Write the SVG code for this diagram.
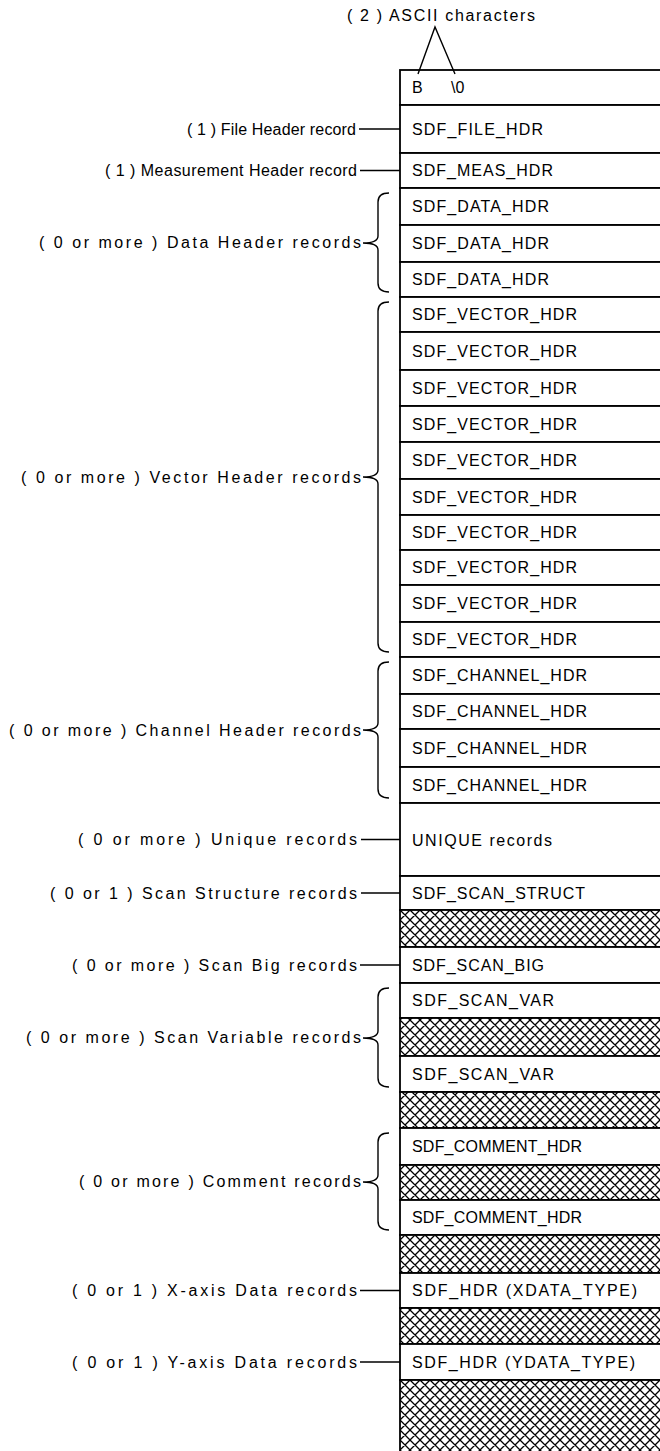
<svg xmlns="http://www.w3.org/2000/svg" width="660" height="1451" viewBox="0 0 660 1451">
<style>
  text { font-family: "Liberation Sans", Arial, sans-serif; font-size: 16px; fill: #000; }
  .lbl { text-anchor: end; }
  .row { fill: #fff; stroke: #000; stroke-width: 1.8; }
  .hatch { fill: url(#hatch); stroke: #000; stroke-width: 1.8; }
  .ln { fill: none; stroke: #000; stroke-width: 1.4; }
</style>
<defs>
  <pattern id="hatch" patternUnits="userSpaceOnUse" width="10" height="10">
    <rect width="10" height="10" fill="#fff"/>
    <path d="M0,0L10,10M-1,9L1,11M9,-1L11,1M10,0L0,10M-1,1L1,-1M9,11L11,9" stroke="#000" stroke-width="1.3"/>
  </pattern>
</defs>
<rect width="660" height="1451" fill="#fff"/>

<g id="header-label">
  <text x="441" y="21" text-anchor="middle" textLength="188" lengthAdjust="spacing">( 2 ) ASCII characters</text>
</g>

<g id="rows">
  <g id="row-magic"><rect class="row" x="400" y="70" width="270" height="35"/><text x="412" y="93">B</text><text x="451" y="93">\0</text></g>
  <g id="row-file-hdr"><rect class="row" x="400" y="105" width="270" height="48"/><text x="412" y="135" textLength="131" lengthAdjust="spacing">SDF_FILE_HDR</text></g>
  <g id="row-meas-hdr"><rect class="row" x="400" y="153" width="270" height="35"/><text x="412" y="176" textLength="141" lengthAdjust="spacing">SDF_MEAS_HDR</text></g>
  <g id="row-data-1"><rect class="row" x="400" y="188" width="270" height="37"/><text x="412" y="212" textLength="137" lengthAdjust="spacing">SDF_DATA_HDR</text></g>
  <g id="row-data-2"><rect class="row" x="400" y="225" width="270" height="37"/><text x="412" y="249" textLength="137" lengthAdjust="spacing">SDF_DATA_HDR</text></g>
  <g id="row-data-3"><rect class="row" x="400" y="262" width="270" height="35"/><text x="412" y="285" textLength="137" lengthAdjust="spacing">SDF_DATA_HDR</text></g>
  <g id="row-vector-1"><rect class="row" x="400" y="297" width="270" height="35"/><text x="412" y="320" textLength="165" lengthAdjust="spacing">SDF_VECTOR_HDR</text></g>
  <g id="row-vector-2"><rect class="row" x="400" y="332" width="270" height="38"/><text x="412" y="357" textLength="165" lengthAdjust="spacing">SDF_VECTOR_HDR</text></g>
  <g id="row-vector-3"><rect class="row" x="400" y="370" width="270" height="36"/><text x="412" y="394" textLength="165" lengthAdjust="spacing">SDF_VECTOR_HDR</text></g>
  <g id="row-vector-4"><rect class="row" x="400" y="406" width="270" height="36"/><text x="412" y="430" textLength="165" lengthAdjust="spacing">SDF_VECTOR_HDR</text></g>
  <g id="row-vector-5"><rect class="row" x="400" y="442" width="270" height="37"/><text x="412" y="466" textLength="165" lengthAdjust="spacing">SDF_VECTOR_HDR</text></g>
  <g id="row-vector-6"><rect class="row" x="400" y="479" width="270" height="36"/><text x="412" y="503" textLength="165" lengthAdjust="spacing">SDF_VECTOR_HDR</text></g>
  <g id="row-vector-7"><rect class="row" x="400" y="515" width="270" height="35"/><text x="412" y="538" textLength="165" lengthAdjust="spacing">SDF_VECTOR_HDR</text></g>
  <g id="row-vector-8"><rect class="row" x="400" y="550" width="270" height="35"/><text x="412" y="573" textLength="165" lengthAdjust="spacing">SDF_VECTOR_HDR</text></g>
  <g id="row-vector-9"><rect class="row" x="400" y="585" width="270" height="37"/><text x="412" y="609" textLength="165" lengthAdjust="spacing">SDF_VECTOR_HDR</text></g>
  <g id="row-vector-10"><rect class="row" x="400" y="622" width="270" height="35"/><text x="412" y="645" textLength="165" lengthAdjust="spacing">SDF_VECTOR_HDR</text></g>
  <g id="row-channel-1"><rect class="row" x="400" y="657" width="270" height="37"/><text x="412" y="681" textLength="175" lengthAdjust="spacing">SDF_CHANNEL_HDR</text></g>
  <g id="row-channel-2"><rect class="row" x="400" y="694" width="270" height="35"/><text x="412" y="717" textLength="175" lengthAdjust="spacing">SDF_CHANNEL_HDR</text></g>
  <g id="row-channel-3"><rect class="row" x="400" y="729" width="270" height="38"/><text x="412" y="754" textLength="175" lengthAdjust="spacing">SDF_CHANNEL_HDR</text></g>
  <g id="row-channel-4"><rect class="row" x="400" y="767" width="270" height="36"/><text x="412" y="791" textLength="175" lengthAdjust="spacing">SDF_CHANNEL_HDR</text></g>
  <g id="row-unique"><rect class="row" x="400" y="803" width="270" height="73"/><text x="412" y="846" textLength="140" lengthAdjust="spacing">UNIQUE records</text></g>
  <g id="row-scan-struct"><rect class="row" x="400" y="876" width="270" height="34"/><text x="412" y="899" textLength="173" lengthAdjust="spacing">SDF_SCAN_STRUCT</text></g>
  <g id="row-scan-struct-data"><rect class="hatch" x="400" y="910" width="270" height="37"/></g>
  <g id="row-scan-big"><rect class="row" x="400" y="947" width="270" height="36"/><text x="412" y="971" textLength="132" lengthAdjust="spacing">SDF_SCAN_BIG</text></g>
  <g id="row-scan-var-1"><rect class="row" x="400" y="983" width="270" height="35"/><text x="412" y="1006" textLength="142" lengthAdjust="spacing">SDF_SCAN_VAR</text></g>
  <g id="row-scan-var-1-data"><rect class="hatch" x="400" y="1018" width="270" height="38"/></g>
  <g id="row-scan-var-2"><rect class="row" x="400" y="1056" width="270" height="36"/><text x="412" y="1080" textLength="142" lengthAdjust="spacing">SDF_SCAN_VAR</text></g>
  <g id="row-scan-var-2-data"><rect class="hatch" x="400" y="1092" width="270" height="36"/></g>
  <g id="row-comment-1"><rect class="row" x="400" y="1128" width="270" height="37"/><text x="412" y="1152" textLength="170" lengthAdjust="spacing">SDF_COMMENT_HDR</text></g>
  <g id="row-comment-1-data"><rect class="hatch" x="400" y="1165" width="270" height="35"/></g>
  <g id="row-comment-2"><rect class="row" x="400" y="1200" width="270" height="35"/><text x="412" y="1223" textLength="170" lengthAdjust="spacing">SDF_COMMENT_HDR</text></g>
  <g id="row-comment-2-data"><rect class="hatch" x="400" y="1235" width="270" height="38"/></g>
  <g id="row-xdata"><rect class="row" x="400" y="1273" width="270" height="35"/><text x="412" y="1296" textLength="225" lengthAdjust="spacing">SDF_HDR (XDATA_TYPE)</text></g>
  <g id="row-xdata-data"><rect class="hatch" x="400" y="1308" width="270" height="36"/></g>
  <g id="row-ydata"><rect class="row" x="400" y="1344" width="270" height="36"/><text x="412" y="1368" textLength="223" lengthAdjust="spacing">SDF_HDR (YDATA_TYPE)</text></g>
  <g id="row-ydata-data"><rect class="hatch" x="400" y="1380" width="270" height="80"/></g>
</g>

<g id="labels">
  <text class="lbl" x="356" y="135" textLength="169" lengthAdjust="spacing">( 1 ) File Header record</text>
  <text class="lbl" x="357" y="176" textLength="252" lengthAdjust="spacing">( 1 ) Measurement Header record</text>
  <text class="lbl" x="361" y="248" textLength="322" lengthAdjust="spacing">( 0 or more ) Data Header records</text>
  <text class="lbl" x="361" y="483" textLength="340" lengthAdjust="spacing">( 0 or more ) Vector Header records</text>
  <text class="lbl" x="361" y="736" textLength="352" lengthAdjust="spacing">( 0 or more ) Channel Header records</text>
  <text class="lbl" x="357" y="845" textLength="279" lengthAdjust="spacing">( 0 or more ) Unique records</text>
  <text class="lbl" x="357" y="899" textLength="307" lengthAdjust="spacing">( 0 or 1 ) Scan Structure records</text>
  <text class="lbl" x="357" y="971" textLength="285" lengthAdjust="spacing">( 0 or more ) Scan Big records</text>
  <text class="lbl" x="361" y="1043" textLength="335" lengthAdjust="spacing">( 0 or more ) Scan Variable records</text>
  <text class="lbl" x="361" y="1187" textLength="282" lengthAdjust="spacing">( 0 or more ) Comment records</text>
  <text class="lbl" x="357" y="1296" textLength="285" lengthAdjust="spacing">( 0 or 1 ) X-axis Data records</text>
  <text class="lbl" x="357" y="1368" textLength="285" lengthAdjust="spacing">( 0 or 1 ) Y-axis Data records</text>
</g>

<g id="connectors">
  <path class="ln" d="M418,74 L435,27 L455,74"/>
  <path class="ln" d="M359,129 H400"/>
  <path class="ln" d="M360,170.5 H400"/>
  <path class="ln" d="M361,839.5 H400"/>
  <path class="ln" d="M361,893 H400"/>
  <path class="ln" d="M360,965 H400"/>
  <path class="ln" d="M360,1290.5 H400"/>
  <path class="ln" d="M360,1362 H400"/>
  <path class="ln" d="M389,193 Q378,193 378,202 L378,236 Q378,243 363,243 Q378,243 378,250 L378,283 Q378,292 389,292"/>
  <path class="ln" d="M389,302 Q378,302 378,311 L378,470 Q378,477 363,477 Q378,477 378,484 L378,643 Q378,652 389,652"/>
  <path class="ln" d="M389,662 Q378,662 378,671 L378,723 Q378,730 363,730 Q378,730 378,737 L378,789 Q378,798 389,798"/>
  <path class="ln" d="M389,988 Q378,988 378,997 L378,1031 Q378,1038 363,1038 Q378,1038 378,1045 L378,1078 Q378,1087 389,1087"/>
  <path class="ln" d="M389,1133 Q378,1133 378,1142 L378,1175 Q378,1182 363,1182 Q378,1182 378,1189 L378,1221 Q378,1230 389,1230"/>
</g>
</svg>
